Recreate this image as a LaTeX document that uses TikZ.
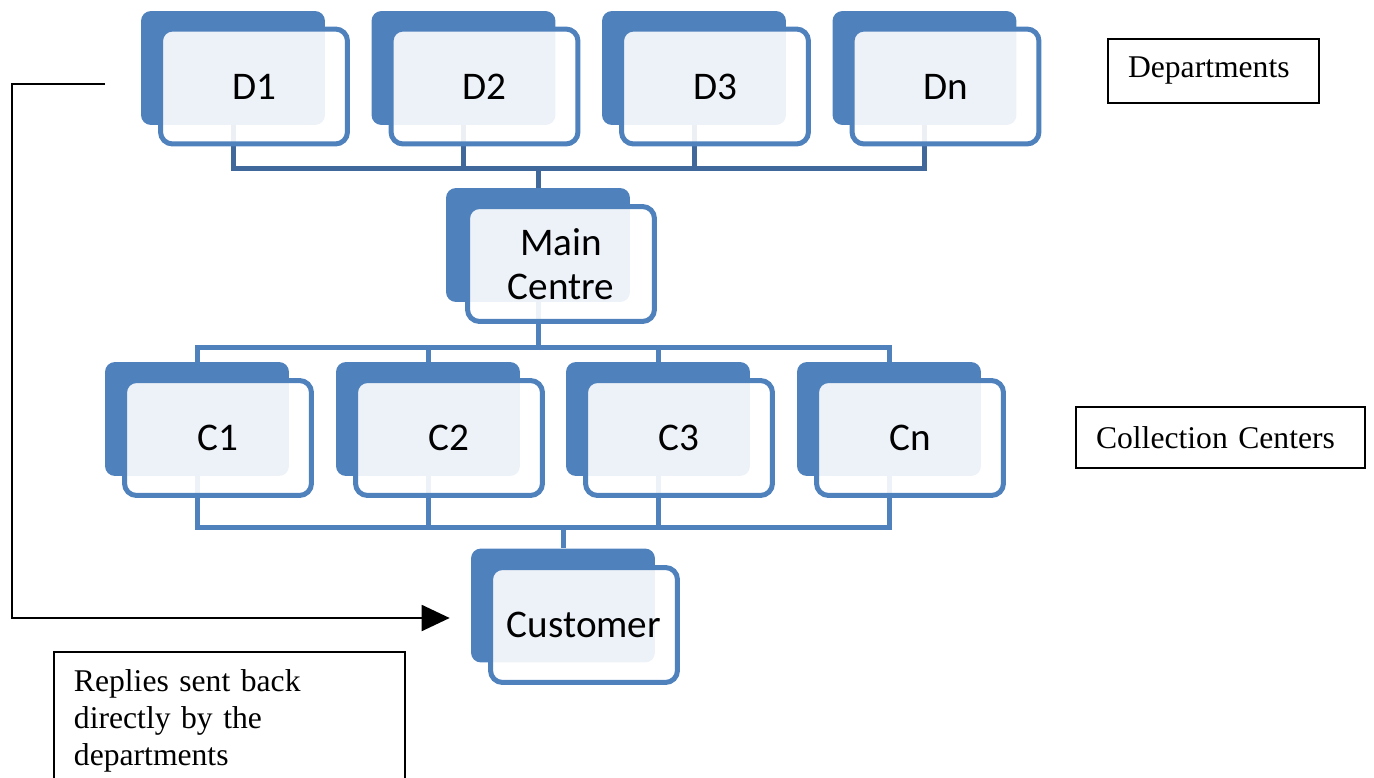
\documentclass[tikz,border=0pt]{standalone}
\usepackage{fontspec}
\setmainfont{Liberation Serif}
\newfontfamily\cardfont{Carlito}
\usetikzlibrary{arrows.meta}

\definecolor{cardblue}{HTML}{4F81BD}
\definecolor{busblue}{HTML}{41689B}

\begin{document}
\begin{tikzpicture}[x=0.02cm, y=-0.02cm, >={Triangle[length=0.56cm, width=0.52cm]},
  cardback/.style={rectangle, rounded corners=0.2cm, fill=cardblue,
    minimum width=3.68cm, minimum height=2.28cm, inner sep=0pt},
  cardfront/.style={rectangle, rounded corners=0.24cm, draw=cardblue, line width=0.1cm,
    fill=white, fill opacity=0.9, text opacity=1, minimum width=3.74cm, minimum height=2.3cm,
    inner sep=0pt, align=center, font=\cardfont\fontsize{22.3}{25}\selectfont},
  bus/.style={cardblue, line width=0.1cm},
  notebox/.style={draw, line width=0.04cm, align=left, inner xsep=0.4cm,
    font=\fontsize{18}{21}\selectfont},
]

  \clip (0,0) rectangle (1374,778);

  %%%%%%%%%%%%%%%%%%%%%%%%%%%%%%%%%%%%%%%%%%%%%%%%%
  % Back cards
  \foreach \i/\x in {1/233, 2/463.5, 3/694, n/924.5}
    \node[cardback] (d\i-back) at (\x, 68) {};
  \node[cardback] (main-back) at (538, 245) {};
  \foreach \i/\x in {1/197, 2/428, 3/658, n/889}
    \node[cardback] (c\i-back) at (\x, 419) {};
  \node[cardback] (cust-back) at (563, 605.5) {};

  %%%%%%%%%%%%%%%%%%%%%%%%%%%%%%%%%%%%%%%%%%%%%%%%%
  % Connectors
  \coordinate (topbus) at (538, 168);
  \coordinate (midbus) at (538, 347);
  \coordinate (lowbus) at (563, 527);

  \foreach \i in {1, 2, 3, n}
    \draw[bus, busblue] (d\i-back.south) |- (topbus);
  \draw[bus, busblue] (topbus) -- (main-back.north);

  \draw[bus] (main-back.south) -- (midbus);
  \foreach \i in {1, 2, 3, n}
    \draw[bus] (midbus) -| (c\i-back.north);

  \foreach \i in {1, 2, 3, n}
    \draw[bus] (c\i-back.south) |- (lowbus);
  \draw[bus] (lowbus) -- (cust-back.north);

  %%%%%%%%%%%%%%%%%%%%%%%%%%%%%%%%%%%%%%%%%%%%%%%%%
  % Front cards
  \foreach \i/\x in {1/233, 2/463.5, 3/694, n/924.5}
    \node[cardfront] (d\i) at ({\x+21}, 86.5) {D\i};
  \node[cardfront] (main) at (561, 264) {Main\\Centre};
  \foreach \i/\x in {1/197, 2/428, 3/658, n/889}
    \node[cardfront] (c\i) at ({\x+21}, 438) {C\i};
  \node[cardfront] (cust) at (584, 625) {Customer};

  %%%%%%%%%%%%%%%%%%%%%%%%%%%%%%%%%%%%%%%%%%%%%%%%%
  % Notes
  \node[notebox, text width=3.42cm, minimum height=1.28cm] (deptnote) at (1213.5, 71) {Departments};
  \node[notebox, text width=4.98cm, minimum height=1.22cm] (collnote) at (1220.5, 437.5) {Collection Centers};
  \node[notebox, anchor=north west, text width=6.22cm, inner ysep=0.35cm, text depth=4cm]
    (replynote) at (53, 651) {Replies sent back\\directly by the\\departments};

  % Reply path back to the customer
  \coordinate (replystart) at (105, 84);
  \coordinate (replycorner) at (12, 618);
  \draw[->, line width=0.04cm, shorten >=0.42cm]
    (replystart) -| (replycorner) -- (cust-back.west |- replycorner);

\end{tikzpicture}
\end{document}
